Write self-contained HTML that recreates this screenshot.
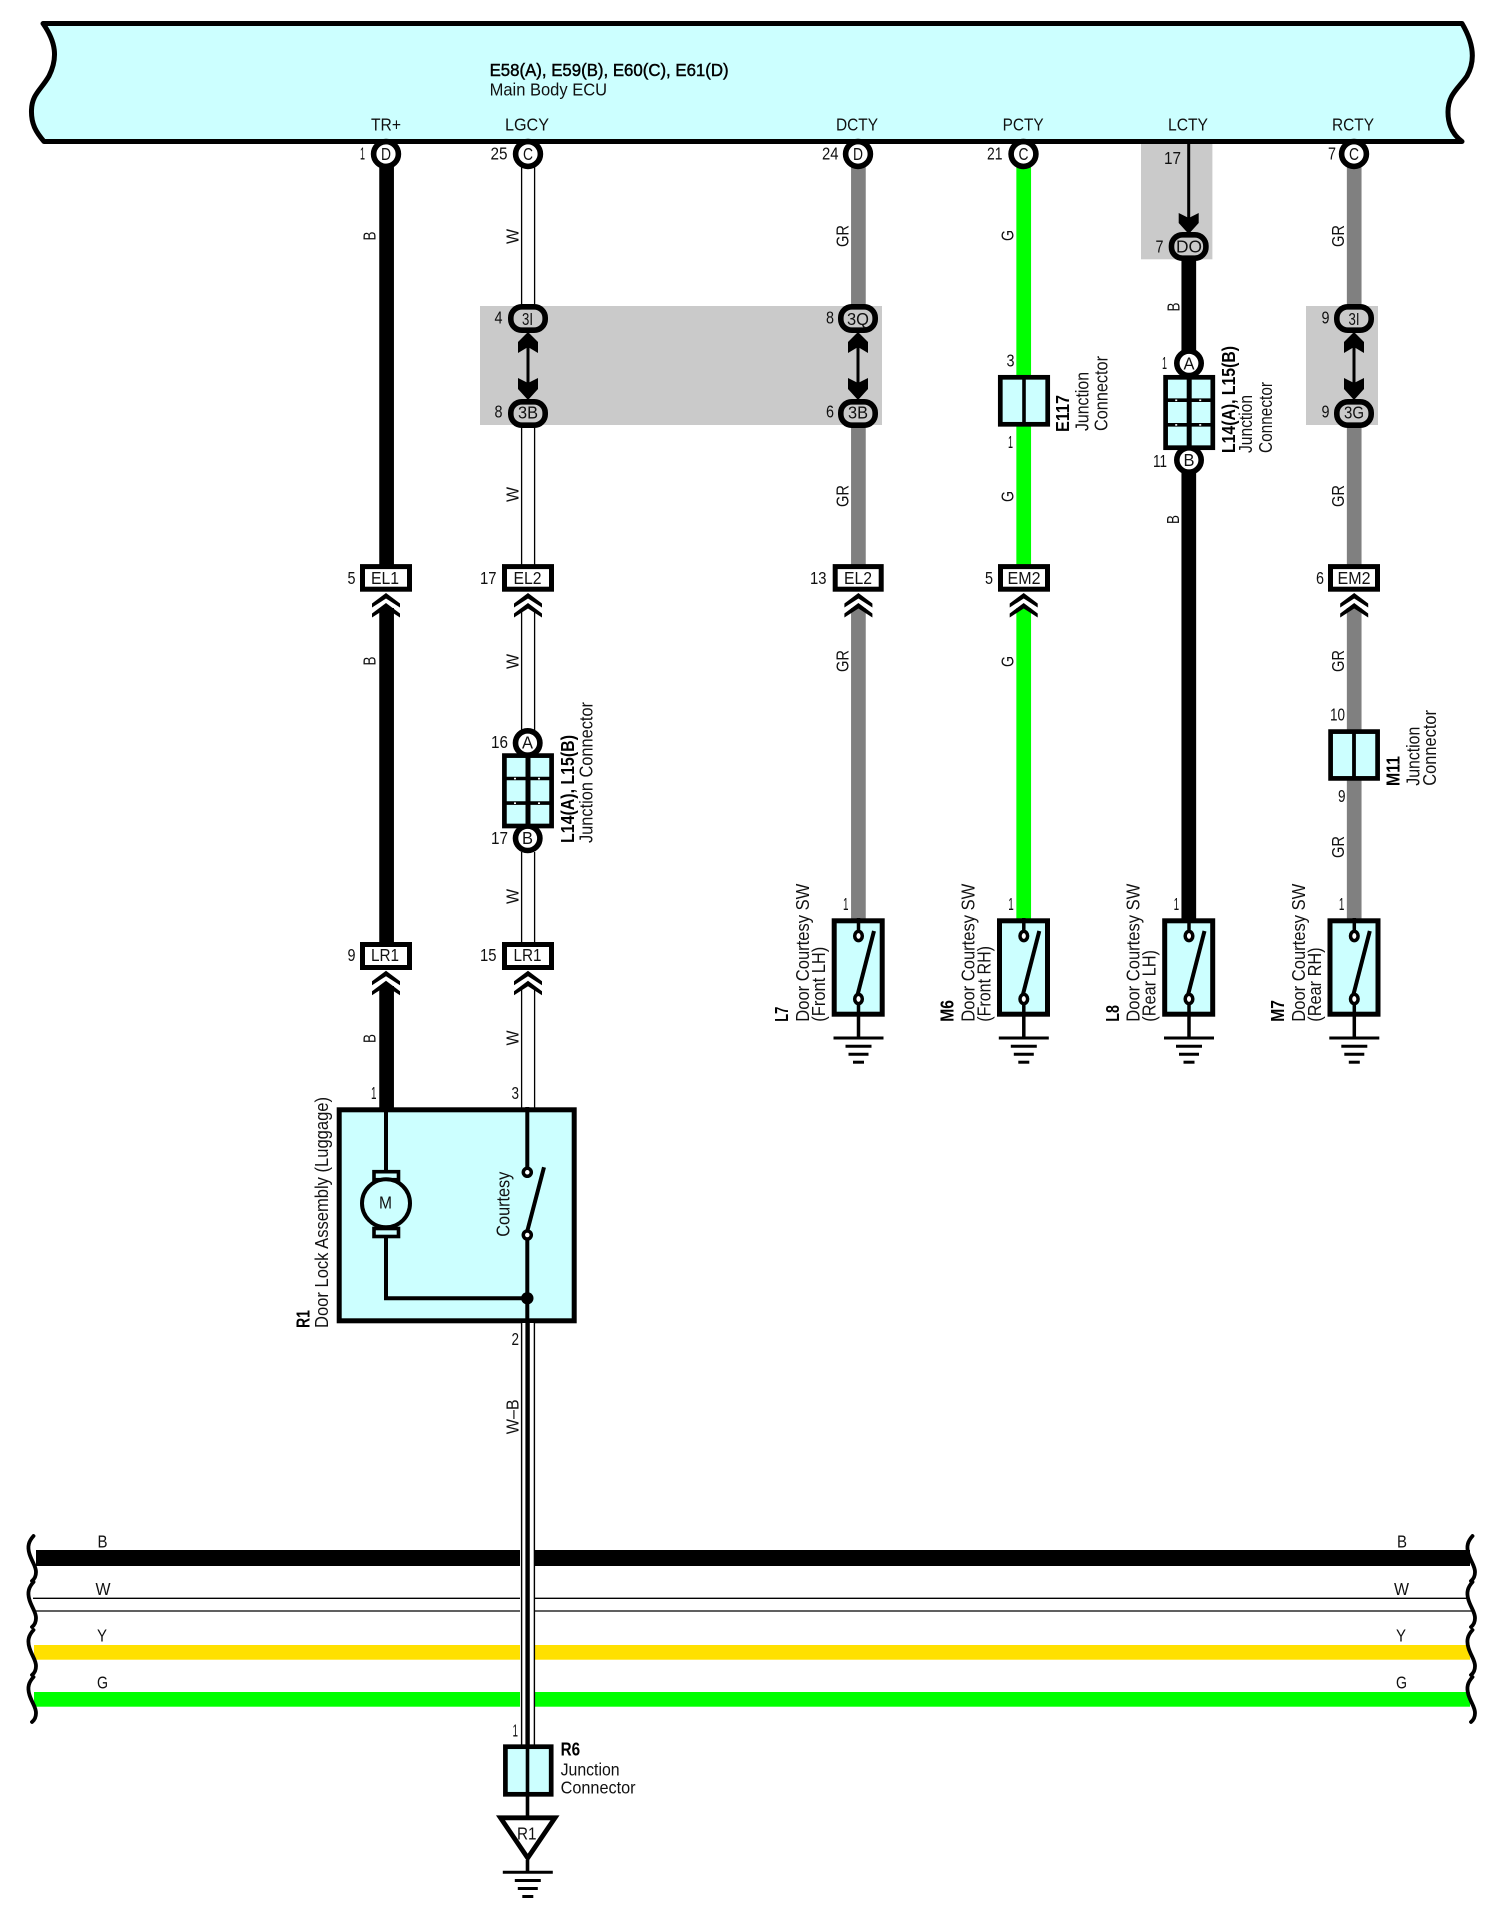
<!DOCTYPE html>
<html>
<head>
<meta charset="utf-8">
<title>Door Courtesy Wiring Diagram</title>
<style>
html,body{margin:0;padding:0;background:#fff;width:1506px;height:1914px;overflow:hidden}
svg{display:block}
text{font-family:"Liberation Sans",sans-serif;font-size:17.3px;fill:#111}
.n{font-size:18.5px}
.b{font-size:18.5px;font-weight:bold;fill:#000}
.m{stroke:#000;stroke-width:.45px;fill:#000;font-size:17.3px}
</style>
</head>
<body>
<svg width="1506" height="1914" viewBox="0 0 1506 1914" xmlns="http://www.w3.org/2000/svg">
<defs>
<g id="chev" fill="#000">
<path d="M0,0 L14,10.5 V14.5 L0,5.5 L-14,14.5 V10.5Z"/>
<path d="M0,10 L14,20.5 V24.5 L0,15.5 L-14,24.5 V20.5Z"/>
</g>
<g id="gnd" stroke="#000" stroke-width="3">
<line x1="-25" x2="25" y1="0" y2="0"/>
<line x1="-13" x2="13" y1="8.2" y2="8.2"/>
<line x1="-10" x2="10" y1="16.2" y2="16.2"/>
<line x1="-5.5" x2="5.5" y1="24.2" y2="24.2"/>
</g>
<g id="sw">
<rect x="-24.3" y="920.8" width="48" height="93.4" fill="#ccffff" stroke="#000" stroke-width="5"/>
<line x1="0" x2="0" y1="918" y2="932" stroke="#000" stroke-width="3.5"/>
<line x1="0" x2="0" y1="1003" y2="1038" stroke="#000" stroke-width="3.5"/>
<line x1="-1" y1="995" x2="15.5" y2="931" stroke="#000" stroke-width="4"/>
<ellipse cx="0" cy="936" rx="3.8" ry="4.6" fill="#fff" stroke="#000" stroke-width="3.5"/>
<ellipse cx="0" cy="999" rx="3.8" ry="4.6" fill="#fff" stroke="#000" stroke-width="3.5"/>
<use href="#gnd" y="1038"/>
</g>
<g id="j6">
<rect x="-23.6" y="-35.2" width="47.2" height="70.4" fill="#ccffff" stroke="#000" stroke-width="4.7"/>
<line x1="0" x2="0" y1="-35" y2="35" stroke="#000" stroke-width="5"/>
<line x1="-23" x2="23" y1="-12.3" y2="-12.3" stroke="#000" stroke-width="3.6"/>
<line x1="-23" x2="23" y1="12.3" y2="12.3" stroke="#000" stroke-width="3.6"/>
<g fill="#fff">
<rect x="-14" y="-13" width="2" height="1.6"/><rect x="10" y="-13" width="2" height="1.6"/>
<rect x="-14" y="11.6" width="2" height="1.6"/><rect x="10" y="11.6" width="2" height="1.6"/>
</g>
</g>
<path id="wave" d="M5.5,0 C1,5 -1,10 1.5,18 C4,26 8,30 8,36 C8,40 6.5,43 4,45" fill="none" stroke="#000" stroke-width="3.8" stroke-linecap="round"/>
</defs>

<rect width="1506" height="1914" fill="#fff"/>

<!-- grey areas -->
<g fill="#cacaca">
<rect x="480" y="306" width="402" height="119"/>
<rect x="1141" y="144" width="71.4" height="115.3"/>
<rect x="1306" y="306" width="72" height="119"/>
</g>

<!-- wires -->
<g fill="none" stroke="#000" stroke-width="14.7">
<path d="M386.6,166V566M386.6,608V944M386.6,986V1109"/>
<path d="M1188.8,258V352M1188.8,472V920"/>
</g>
<g fill="none" stroke="#808080" stroke-width="14.7">
<path d="M858.4,166V308M858.4,425V566M858.4,608V920"/>
<path d="M1354.2,166V308M1354.2,425V566M1354.2,608V731M1354.2,780V920"/>
</g>
<g fill="none" stroke="#00ff00" stroke-width="14.7">
<path d="M1023.7,166V377M1023.7,425V566M1023.7,608V920"/>
</g>
<g fill="none" stroke="#000" stroke-width="1.3">
<path d="M521.6,166V308M534.6,166V308M521.6,425V566M534.6,425V566M521.6,612V730M534.6,612V730M521.6,852V944M534.6,852V944M521.6,990V1109M534.6,990V1109"/>
</g>

<!-- ECU band -->
<path d="M43,23.5 H1462 C1473,42 1476,60 1467,76 C1459,88 1448,94 1448,112 C1448,124 1452,134 1462,141.5 H44 C36,132 31,124 31.5,110 C32,94 41,90 49,76 C58,58 56,42 43,23.5Z" fill="#ccffff" stroke="#000" stroke-width="5" stroke-linejoin="round"/>
<text class="m" x="489.6" y="76" textLength="239" lengthAdjust="spacingAndGlyphs">E58(A), E59(B), E60(C), E61(D)</text>
<text x="489.6" y="95.5" textLength="117.5" lengthAdjust="spacingAndGlyphs">Main Body ECU</text>
<text x="371" y="130.7" textLength="30" lengthAdjust="spacingAndGlyphs">TR+</text>
<text x="505" y="130.7" textLength="44" lengthAdjust="spacingAndGlyphs">LGCY</text>
<text x="836" y="130.7" textLength="42" lengthAdjust="spacingAndGlyphs">DCTY</text>
<text x="1002.6" y="130.7" textLength="41" lengthAdjust="spacingAndGlyphs">PCTY</text>
<text x="1168" y="130.7" textLength="40" lengthAdjust="spacingAndGlyphs">LCTY</text>
<text x="1332" y="130.7" textLength="42" lengthAdjust="spacingAndGlyphs">RCTY</text>

<!-- top circles -->
<g fill="#fff" stroke="#000" stroke-width="5.6">
<circle cx="386" cy="154" r="12.4"/>
<circle cx="528" cy="154" r="12.4"/>
<circle cx="858" cy="154" r="12.4"/>
<circle cx="1023.5" cy="154" r="12.4"/>
<circle cx="1354" cy="154" r="12.4"/>
</g>
<text x="381" y="160" textLength="10" lengthAdjust="spacingAndGlyphs">D</text>
<text x="523" y="160" textLength="10" lengthAdjust="spacingAndGlyphs">C</text>
<text x="853" y="160" textLength="10" lengthAdjust="spacingAndGlyphs">D</text>
<text x="1018.5" y="160" textLength="10" lengthAdjust="spacingAndGlyphs">C</text>
<text x="1349" y="160" textLength="10" lengthAdjust="spacingAndGlyphs">C</text>
<text x="360" y="159.5" textLength="5" lengthAdjust="spacingAndGlyphs">1</text>
<text x="490.5" y="159.5" textLength="17" lengthAdjust="spacingAndGlyphs">25</text>
<text x="822" y="159.5" textLength="16.5" lengthAdjust="spacingAndGlyphs">24</text>
<text x="987" y="159.5" textLength="15.5" lengthAdjust="spacingAndGlyphs">21</text>
<text x="1328" y="159.5" textLength="8" lengthAdjust="spacingAndGlyphs">7</text>
<text x="1164" y="164" textLength="17" lengthAdjust="spacingAndGlyphs">17</text>
<text x="1155.5" y="252.7" textLength="8" lengthAdjust="spacingAndGlyphs">7</text>

<!-- arrows between ovals -->
<g fill="#000">
<g id="a1">
<rect x="526.5" y="340" width="3" height="50"/>
<path d="M528,332 L538,342 V353 L528,347 L518,353 V342Z"/>
<path d="M528,400 L538,389 V378 L528,383 L518,378 V389Z"/>
</g>
<use href="#a1" x="330"/>
<use href="#a1" x="826"/>
<rect x="1187.2" y="143" width="3" height="78"/>
<path d="M1188.7,234 L1198.7,223 V213 L1188.7,218 L1178.7,213 V223Z"/>
</g>

<!-- ovals -->
<g fill="#cacaca" stroke="#000" stroke-width="5.6">
<rect x="510.8" y="306.8" width="34.4" height="23.4" rx="11"/>
<rect x="510.8" y="401.8" width="34.4" height="23.4" rx="11"/>
<rect x="840.8" y="306.8" width="34.4" height="23.4" rx="11"/>
<rect x="840.8" y="401.8" width="34.4" height="23.4" rx="11"/>
<rect x="1336.8" y="306.8" width="34.4" height="23.4" rx="11"/>
<rect x="1336.8" y="401.8" width="34.4" height="23.4" rx="11"/>
<rect x="1171.5" y="234.8" width="34.4" height="23.4" rx="11"/>
</g>
<text x="522" y="325" textLength="11" lengthAdjust="spacingAndGlyphs">3I</text>
<text x="518" y="418.3" textLength="20" lengthAdjust="spacingAndGlyphs">3B</text>
<text x="847" y="325" textLength="22" lengthAdjust="spacingAndGlyphs">3Q</text>
<text x="848" y="418.3" textLength="20" lengthAdjust="spacingAndGlyphs">3B</text>
<text x="1348.5" y="325" textLength="11" lengthAdjust="spacingAndGlyphs">3I</text>
<text x="1344" y="418.3" textLength="20" lengthAdjust="spacingAndGlyphs">3G</text>
<text x="1176" y="252.7" textLength="26" lengthAdjust="spacingAndGlyphs">DO</text>
<text x="494.5" y="323.3" textLength="8" lengthAdjust="spacingAndGlyphs">4</text>
<text x="494.5" y="417.7" textLength="8" lengthAdjust="spacingAndGlyphs">8</text>
<text x="826" y="323.3" textLength="8" lengthAdjust="spacingAndGlyphs">8</text>
<text x="826" y="417.7" textLength="8" lengthAdjust="spacingAndGlyphs">6</text>
<text x="1321.5" y="323.3" textLength="8" lengthAdjust="spacingAndGlyphs">9</text>
<text x="1321.5" y="417.7" textLength="8" lengthAdjust="spacingAndGlyphs">9</text>

<!-- E117 junction -->
<rect x="1000.3" y="377.3" width="47.4" height="47" fill="#ccffff" stroke="#000" stroke-width="4.7"/>
<line x1="1024" x2="1024" y1="376" y2="426" stroke="#000" stroke-width="3.6"/>
<text x="1006.5" y="366.7" textLength="8" lengthAdjust="spacingAndGlyphs">3</text>
<text x="1008" y="448" textLength="5" lengthAdjust="spacingAndGlyphs">1</text>
<text class="b" transform="translate(1069 432) rotate(-90)" textLength="37" lengthAdjust="spacingAndGlyphs">E117</text>
<text class="n" transform="translate(1088.3 431) rotate(-90)" textLength="59" lengthAdjust="spacingAndGlyphs">Junction</text>
<text class="n" transform="translate(1107.3 431) rotate(-90)" textLength="75" lengthAdjust="spacingAndGlyphs">Connector</text>

<!-- L14 right -->
<g fill="#fff" stroke="#000" stroke-width="5.6">
<circle cx="1189" cy="363.3" r="12.2"/>
<circle cx="1189" cy="460" r="12.2"/>
</g>
<use href="#j6" x="1189.2" y="412.5"/>
<text x="1183.5" y="369.5" textLength="11" lengthAdjust="spacingAndGlyphs">A</text>
<text x="1183.5" y="466" textLength="11" lengthAdjust="spacingAndGlyphs">B</text>
<text x="1162" y="369" textLength="5" lengthAdjust="spacingAndGlyphs">1</text>
<text x="1153" y="467" textLength="14" lengthAdjust="spacingAndGlyphs">11</text>
<text class="b" transform="translate(1235 453) rotate(-90)" textLength="107" lengthAdjust="spacingAndGlyphs">L14(A), L15(B)</text>
<text class="n" transform="translate(1252 453) rotate(-90)" textLength="58" lengthAdjust="spacingAndGlyphs">Junction</text>
<text class="n" transform="translate(1272 453) rotate(-90)" textLength="71" lengthAdjust="spacingAndGlyphs">Connector</text>

<!-- L14 left -->
<g fill="#fff" stroke="#000" stroke-width="5.6">
<circle cx="527.7" cy="743" r="12.2"/>
<circle cx="527.7" cy="838.3" r="12.2"/>
</g>
<use href="#j6" x="528" y="790.8"/>
<text x="522" y="748.5" textLength="11" lengthAdjust="spacingAndGlyphs">A</text>
<text x="522" y="844" textLength="11" lengthAdjust="spacingAndGlyphs">B</text>
<text x="491" y="748" textLength="17" lengthAdjust="spacingAndGlyphs">16</text>
<text x="491" y="844" textLength="17" lengthAdjust="spacingAndGlyphs">17</text>
<text class="b" transform="translate(574 843) rotate(-90)" textLength="108" lengthAdjust="spacingAndGlyphs">L14(A), L15(B)</text>
<text class="n" transform="translate(592.7 843) rotate(-90)" textLength="141" lengthAdjust="spacingAndGlyphs">Junction Connector</text>

<!-- M11 -->
<rect x="1330.6" y="731.6" width="47" height="46.8" fill="#ccffff" stroke="#000" stroke-width="4.7"/>
<line x1="1354" x2="1354" y1="730" y2="780" stroke="#000" stroke-width="3.8"/>
<text x="1330" y="720.7" textLength="15" lengthAdjust="spacingAndGlyphs">10</text>
<text x="1338" y="802" textLength="7.5" lengthAdjust="spacingAndGlyphs">9</text>
<text class="b" transform="translate(1399.7 786) rotate(-90)" textLength="30" lengthAdjust="spacingAndGlyphs">M11</text>
<text class="n" transform="translate(1419.7 785.7) rotate(-90)" textLength="59" lengthAdjust="spacingAndGlyphs">Junction</text>
<text class="n" transform="translate(1436 785.7) rotate(-90)" textLength="75.7" lengthAdjust="spacingAndGlyphs">Connector</text>

<!-- connector strips EL/EM -->
<g fill="#fff" stroke="#000" stroke-width="5">
<rect x="362.5" y="566.6" width="47" height="22.6"/>
<rect x="504.5" y="566.6" width="47" height="22.6"/>
<rect x="835.2" y="566.6" width="46" height="22.6"/>
<rect x="1000.5" y="566.6" width="47" height="22.6"/>
<rect x="1330.5" y="566.6" width="47" height="22.6"/>
<rect x="362.5" y="944.5" width="47" height="23"/>
<rect x="504.5" y="944.5" width="47" height="23"/>
</g>
<text x="371" y="584" textLength="28" lengthAdjust="spacingAndGlyphs">EL1</text>
<text x="513.5" y="584" textLength="28" lengthAdjust="spacingAndGlyphs">EL2</text>
<text x="844" y="584" textLength="28" lengthAdjust="spacingAndGlyphs">EL2</text>
<text x="1007.5" y="584" textLength="33" lengthAdjust="spacingAndGlyphs">EM2</text>
<text x="1337.5" y="584" textLength="33" lengthAdjust="spacingAndGlyphs">EM2</text>
<text x="371" y="961" textLength="28" lengthAdjust="spacingAndGlyphs">LR1</text>
<text x="513.5" y="961" textLength="28" lengthAdjust="spacingAndGlyphs">LR1</text>
<text x="347.5" y="584" textLength="8" lengthAdjust="spacingAndGlyphs">5</text>
<text x="480" y="584" textLength="16.5" lengthAdjust="spacingAndGlyphs">17</text>
<text x="810" y="584" textLength="16.5" lengthAdjust="spacingAndGlyphs">13</text>
<text x="985" y="584" textLength="8" lengthAdjust="spacingAndGlyphs">5</text>
<text x="1316" y="584" textLength="8" lengthAdjust="spacingAndGlyphs">6</text>
<text x="347.5" y="961" textLength="8" lengthAdjust="spacingAndGlyphs">9</text>
<text x="480" y="961" textLength="16.5" lengthAdjust="spacingAndGlyphs">15</text>

<!-- chevrons -->
<use href="#chev" x="386" y="593"/>
<use href="#chev" x="528" y="593"/>
<use href="#chev" x="858.4" y="593"/>
<use href="#chev" x="1023.7" y="593"/>
<use href="#chev" x="1354.2" y="593"/>
<use href="#chev" x="386" y="970.7"/>
<use href="#chev" x="528" y="970.7"/>

<!-- wire labels (vertical) -->
<text transform="translate(375.7 240.5) rotate(-90)" textLength="9" lengthAdjust="spacingAndGlyphs">B</text>
<text transform="translate(375.7 665.5) rotate(-90)" textLength="9" lengthAdjust="spacingAndGlyphs">B</text>
<text transform="translate(375.7 1043) rotate(-90)" textLength="9" lengthAdjust="spacingAndGlyphs">B</text>
<text transform="translate(518.7 244) rotate(-90)" textLength="15" lengthAdjust="spacingAndGlyphs">W</text>
<text transform="translate(518.7 502) rotate(-90)" textLength="15" lengthAdjust="spacingAndGlyphs">W</text>
<text transform="translate(518.7 669) rotate(-90)" textLength="15" lengthAdjust="spacingAndGlyphs">W</text>
<text transform="translate(518.7 904) rotate(-90)" textLength="15" lengthAdjust="spacingAndGlyphs">W</text>
<text transform="translate(518.7 1045.5) rotate(-90)" textLength="15" lengthAdjust="spacingAndGlyphs">W</text>
<text transform="translate(518.3 1434.3) rotate(-90)" textLength="35" lengthAdjust="spacingAndGlyphs">W–B</text>
<text transform="translate(848.5 247) rotate(-90)" textLength="22" lengthAdjust="spacingAndGlyphs">GR</text>
<text transform="translate(848.5 507) rotate(-90)" textLength="22" lengthAdjust="spacingAndGlyphs">GR</text>
<text transform="translate(848.5 672) rotate(-90)" textLength="22" lengthAdjust="spacingAndGlyphs">GR</text>
<text transform="translate(1013.5 241) rotate(-90)" textLength="11" lengthAdjust="spacingAndGlyphs">G</text>
<text transform="translate(1013.5 502) rotate(-90)" textLength="11" lengthAdjust="spacingAndGlyphs">G</text>
<text transform="translate(1013.5 667) rotate(-90)" textLength="11" lengthAdjust="spacingAndGlyphs">G</text>
<text transform="translate(1179.5 311.5) rotate(-90)" textLength="9" lengthAdjust="spacingAndGlyphs">B</text>
<text transform="translate(1179 524) rotate(-90)" textLength="9" lengthAdjust="spacingAndGlyphs">B</text>
<text transform="translate(1344 247) rotate(-90)" textLength="22" lengthAdjust="spacingAndGlyphs">GR</text>
<text transform="translate(1344 507) rotate(-90)" textLength="22" lengthAdjust="spacingAndGlyphs">GR</text>
<text transform="translate(1344 672) rotate(-90)" textLength="22" lengthAdjust="spacingAndGlyphs">GR</text>
<text transform="translate(1344 858) rotate(-90)" textLength="22" lengthAdjust="spacingAndGlyphs">GR</text>

<!-- door switches -->
<use href="#sw" x="858.5"/>
<use href="#sw" x="1023.8"/>
<use href="#sw" x="1189"/>
<use href="#sw" x="1354.3"/>
<text x="843" y="910" textLength="5.5" lengthAdjust="spacingAndGlyphs">1</text>
<text x="1008.3" y="910" textLength="5.5" lengthAdjust="spacingAndGlyphs">1</text>
<text x="1173.6" y="910" textLength="5.5" lengthAdjust="spacingAndGlyphs">1</text>
<text x="1338.9" y="910" textLength="5.5" lengthAdjust="spacingAndGlyphs">1</text>

<text class="b" transform="translate(788.2 1021.7) rotate(-90)" textLength="15" lengthAdjust="spacingAndGlyphs">L7</text>
<text class="n" transform="translate(809 1021.7) rotate(-90)" textLength="138" lengthAdjust="spacingAndGlyphs">Door Courtesy SW</text>
<text class="n" transform="translate(825 1021.7) rotate(-90)" textLength="75" lengthAdjust="spacingAndGlyphs">(Front LH)</text>

<text class="b" transform="translate(953.5 1021.7) rotate(-90)" textLength="21.7" lengthAdjust="spacingAndGlyphs">M6</text>
<text class="n" transform="translate(974.3 1021.7) rotate(-90)" textLength="138" lengthAdjust="spacingAndGlyphs">Door Courtesy SW</text>
<text class="n" transform="translate(990.3 1021.7) rotate(-90)" textLength="75.7" lengthAdjust="spacingAndGlyphs">(Front RH)</text>

<text class="b" transform="translate(1118.8 1021.7) rotate(-90)" textLength="16.7" lengthAdjust="spacingAndGlyphs">L8</text>
<text class="n" transform="translate(1139.6 1021.7) rotate(-90)" textLength="138" lengthAdjust="spacingAndGlyphs">Door Courtesy SW</text>
<text class="n" transform="translate(1155.6 1021.7) rotate(-90)" textLength="71.7" lengthAdjust="spacingAndGlyphs">(Rear LH)</text>

<text class="b" transform="translate(1284 1021.7) rotate(-90)" textLength="21.7" lengthAdjust="spacingAndGlyphs">M7</text>
<text class="n" transform="translate(1304.9 1021.7) rotate(-90)" textLength="138" lengthAdjust="spacingAndGlyphs">Door Courtesy SW</text>
<text class="n" transform="translate(1320.9 1021.7) rotate(-90)" textLength="74.3" lengthAdjust="spacingAndGlyphs">(Rear RH)</text>

<!-- Door lock assembly -->
<rect x="339.2" y="1109.8" width="235" height="211" fill="#ccffff" stroke="#000" stroke-width="5"/>
<g fill="none" stroke="#000" stroke-width="4">
<path d="M386,1107V1172"/>
<path d="M386,1236V1298.3H527.3"/>
<path d="M527.3,1107V1168"/>
<path d="M527.3,1239V1325"/>
<path d="M527.3,1231 L544,1167.3"/>
<rect x="374" y="1171.7" width="24.5" height="8" fill="#ccffff" stroke-width="3.6"/>
<rect x="374" y="1228.5" width="24.5" height="8" fill="#ccffff" stroke-width="3.6"/>
<circle cx="386" cy="1203.3" r="24" fill="#ccffff" stroke-width="4"/>
<circle cx="527.3" cy="1172.3" r="4" fill="#fff" stroke-width="3.5"/>
<circle cx="527.3" cy="1235" r="4" fill="#fff" stroke-width="3.5"/>
</g>
<circle cx="527.3" cy="1298.3" r="6.2" fill="#000"/>
<text x="379" y="1208.3" textLength="13" lengthAdjust="spacingAndGlyphs">M</text>
<text class="n" transform="translate(509.5 1236.7) rotate(-90)" textLength="65" lengthAdjust="spacingAndGlyphs">Courtesy</text>
<text class="b" transform="translate(309.3 1328) rotate(-90)" textLength="18" lengthAdjust="spacingAndGlyphs">R1</text>
<text class="n" transform="translate(328 1328) rotate(-90)" textLength="231" lengthAdjust="spacingAndGlyphs">Door Lock Assembly (Luggage)</text>
<text x="371" y="1099" textLength="5.5" lengthAdjust="spacingAndGlyphs">1</text>
<text x="511.5" y="1099" textLength="7.5" lengthAdjust="spacingAndGlyphs">3</text>
<text x="511.5" y="1345" textLength="7.5" lengthAdjust="spacingAndGlyphs">2</text>

<!-- bus lines -->
<g>
<rect x="36" y="1550" width="484" height="16" fill="#000"/>
<rect x="535" y="1550" width="935" height="16" fill="#000"/>
<rect x="34" y="1645" width="486" height="14.7" fill="#ffe000"/>
<rect x="535" y="1645" width="935" height="14.7" fill="#ffe000"/>
<rect x="34" y="1692" width="486" height="14.7" fill="#00ff00"/>
<rect x="535" y="1692" width="935" height="14.7" fill="#00ff00"/>
<path d="M33,1598.3H520M535,1598.3H1468M36,1611H520M535,1611H1472" stroke="#000" stroke-width="1.3" fill="none"/>
</g>
<use href="#wave" x="28" y="1536"/>
<use href="#wave" x="28" y="1582"/>
<use href="#wave" x="28" y="1630"/>
<use href="#wave" x="28" y="1677"/>
<use href="#wave" x="1467" y="1536"/>
<use href="#wave" x="1467" y="1582"/>
<use href="#wave" x="1467" y="1630"/>
<use href="#wave" x="1467" y="1677"/>
<text x="97.5" y="1547.3" textLength="10" lengthAdjust="spacingAndGlyphs">B</text>
<text x="95.5" y="1595" textLength="15" lengthAdjust="spacingAndGlyphs">W</text>
<text x="97" y="1641.7" textLength="10" lengthAdjust="spacingAndGlyphs">Y</text>
<text x="97" y="1688.3" textLength="11" lengthAdjust="spacingAndGlyphs">G</text>
<text x="1397" y="1547.3" textLength="10" lengthAdjust="spacingAndGlyphs">B</text>
<text x="1394" y="1595" textLength="15" lengthAdjust="spacingAndGlyphs">W</text>
<text x="1396" y="1641.7" textLength="10" lengthAdjust="spacingAndGlyphs">Y</text>
<text x="1396" y="1688.3" textLength="11" lengthAdjust="spacingAndGlyphs">G</text>

<!-- W-B vertical wire -->
<rect x="521" y="1323" width="14" height="422" fill="#fff"/>
<path d="M521.6,1323V1745M534.4,1323V1745" stroke="#000" stroke-width="1.4" fill="none"/>
<path d="M527.6,1323V1745" stroke="#000" stroke-width="4.4" fill="none"/>

<!-- R6 -->
<rect x="505.4" y="1746.7" width="45.8" height="47.6" fill="#ccffff" stroke="#000" stroke-width="4.7"/>
<line x1="527.5" x2="527.5" y1="1745" y2="1818" stroke="#000" stroke-width="3.6"/>
<path d="M500.5,1817.8 H555 L527.7,1858Z" fill="#fff" stroke="#000" stroke-width="4.8" stroke-linejoin="miter"/>
<line x1="527.5" x2="527.5" y1="1860" y2="1873" stroke="#000" stroke-width="3.6"/>
<text x="517" y="1839.3" textLength="19.5" lengthAdjust="spacingAndGlyphs">R1</text>
<use href="#gnd" x="527.8" y="1872.3"/>
<text x="512.5" y="1736.7" textLength="5.5" lengthAdjust="spacingAndGlyphs">1</text>
<text class="b" x="560.6" y="1755.7" textLength="19.5" lengthAdjust="spacingAndGlyphs">R6</text>
<text x="560.6" y="1775.7" textLength="59" lengthAdjust="spacingAndGlyphs">Junction</text>
<text x="560.6" y="1793.3" textLength="75" lengthAdjust="spacingAndGlyphs">Connector</text>
</svg>
</body>
</html>
